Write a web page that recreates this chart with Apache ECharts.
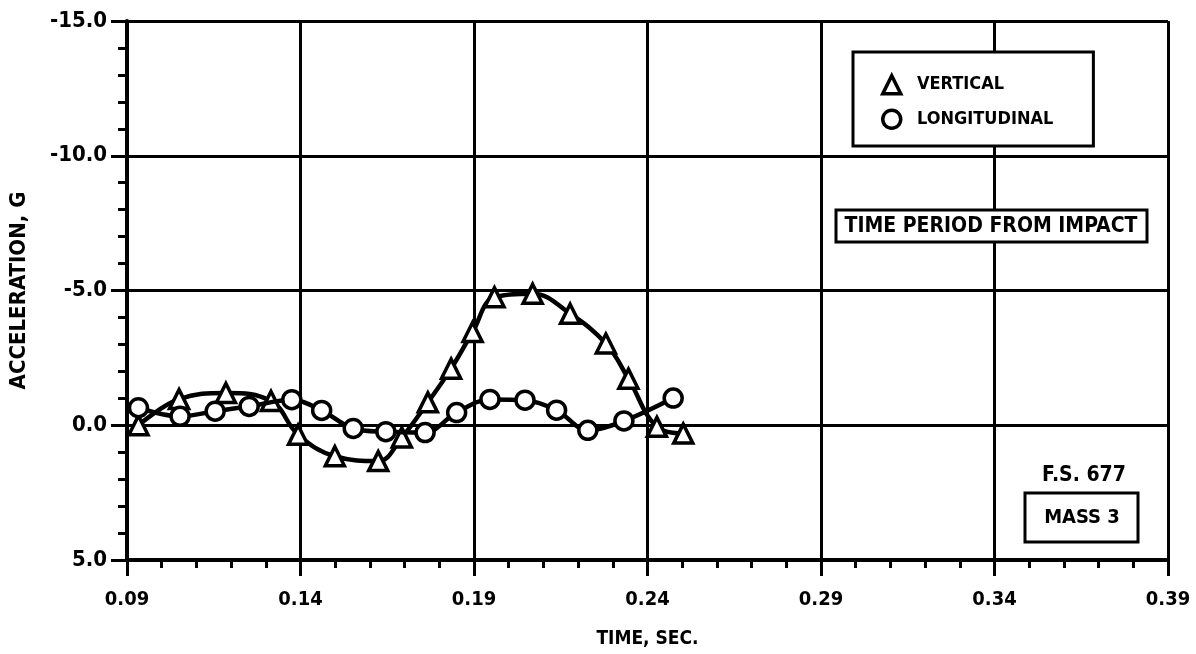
<!DOCTYPE html>
<html>
<head>
<meta charset="utf-8">
<script src="https://cdn.jsdelivr.net/npm/echarts@6/dist/echarts.min.js"></script>
<style>
html,body{margin:0;padding:0;background:#fff;}
#chart{width:1196px;height:654px;}
</style>
</head>
<body>
<div id="chart"></div>
<script>
// ---- data ----
const xTicks = [0.09, 0.14, 0.19, 0.24, 0.29, 0.34, 0.39];
const yTicks = [-15, -10, -5, 0, 5];
const vertT = [0.0933,0.1050,0.1185,0.1315,0.1393,0.1499,0.1624,0.1692,0.1767,0.1834,0.1896,0.1959,0.2069,0.2177,0.2280,0.2345,0.2427,0.2503];
const vertG = [0.0,-0.97,-1.2,-0.9,0.35,1.15,1.33,0.45,-0.85,-2.1,-3.46,-4.75,-4.88,-4.14,-3.03,-1.73,0.06,0.31];
const longT = [0.0933,0.1053,0.1154,0.1252,0.1375,0.1461,0.1552,0.1646,0.1759,0.1850,0.1946,0.2047,0.2138,0.2228,0.2332,0.2474];
const longG = [-0.65,-0.33,-0.52,-0.7,-0.95,-0.55,0.12,0.24,0.27,-0.47,-0.96,-0.93,-0.56,0.19,-0.16,-1.01];
const seriesNames = ['VERTICAL', 'LONGITUDINAL'];
const xName = 'TIME, SEC.';
const yName = 'ACCELERATION, G';
const noteBox = 'TIME PERIOD FROM IMPACT';
const noteFS = 'F.S. 677';
const noteMass = 'MASS 3';

const FONT = '"DejaVu Sans Condensed","DejaVu Sans",sans-serif';
const BLK = '#000';

const chart = echarts.init(document.getElementById('chart'), null, {renderer: 'canvas'});

function zip(a, b) { return a.map((v, i) => [v, b[i]]); }

const option = {
  backgroundColor: '#fff',
  animation: false,
  grid: {left: 127, right: 28, top: 21, bottom: 94, containLabel: false, outerBoundsMode: 'none'},
  legend: {
    orient: 'vertical',
    left: 853, top: 52,
    padding: [22, 40, 16, 28],
    itemGap: 13,
    itemWidth: 18, itemHeight: 18,
    backgroundColor: '#fff',
    borderColor: BLK, borderWidth: 3,
    formatter: n => '  ' + n,
    textStyle: {fontFamily: FONT, fontWeight: 'bold', fontSize: 18, color: BLK},
    data: [
      {name: seriesNames[0], icon: 'triangle', itemStyle: {color: '#fff', borderColor: BLK, borderWidth: 3.5}},
      {name: seriesNames[1], icon: 'circle', itemStyle: {color: '#fff', borderColor: BLK, borderWidth: 3.5}}
    ]
  },
  xAxis: [{
    type: 'value', min: xTicks[0], max: xTicks[xTicks.length - 1], interval: 0.01,
    position: 'bottom',
    name: xName, nameLocation: 'middle', nameGap: 70,
    nameTextStyle: {fontFamily: FONT, fontWeight: 'bold', fontSize: 19, color: BLK},
    axisLine: {onZero: false, lineStyle: {color: BLK, width: 4}},
    axisTick: {show: true, customValues: xTicks, length: 16, lineStyle: {color: BLK, width: 3}},
    axisLabel: {customValues: xTicks, margin: 30, fontFamily: FONT, fontWeight: 'bold', fontSize: 20, color: BLK,
      formatter: v => v.toFixed(2)},
    splitLine: {show: true, lineStyle: {color: BLK, width: 3}}
  }, {
    type: 'value', min: xTicks[0], max: xTicks[xTicks.length - 1], interval: 0.01,
    position: 'bottom', gridIndex: 0,
    axisLine: {show: false, onZero: false},
    axisTick: {show: true, length: 8, lineStyle: {color: BLK, width: 3}},
    axisLabel: {show: false},
    splitLine: {show: false}
  }],
  yAxis: {
    type: 'value', inverse: true, min: yTicks[0], max: yTicks[yTicks.length - 1], interval: 5,
    name: yName, nameLocation: 'middle', nameGap: 97, nameRotate: 90,
    nameTextStyle: {fontFamily: FONT, fontWeight: 'bold', fontSize: 22, color: BLK},
    axisLine: {onZero: false, lineStyle: {color: BLK, width: 4}},
    axisTick: {show: true, length: 16, lineStyle: {color: BLK, width: 3}},
    minorTick: {show: true, splitNumber: 5, length: 9, lineStyle: {color: BLK, width: 3}},
    axisLabel: {margin: 20, fontFamily: FONT, fontWeight: 'bold', fontSize: 22, color: BLK,
      formatter: v => v.toFixed(1)},
    splitLine: {show: true, lineStyle: {color: BLK, width: 3}}
  },
  series: [{
    name: seriesNames[0], type: 'line', smooth: 0.4,
    data: zip(vertT, vertG),
    symbol: 'triangle', symbolSize: 19,
    lineStyle: {color: BLK, width: 4.5},
    itemStyle: {color: '#fff', borderColor: BLK, borderWidth: 3.5},
    z: 3
  }, {
    name: seriesNames[1], type: 'line', smooth: 0.35,
    data: zip(longT, longG),
    symbol: 'circle', symbolSize: 18,
    lineStyle: {color: BLK, width: 4.5},
    itemStyle: {color: '#fff', borderColor: BLK, borderWidth: 3.5},
    z: 4
  }],
  graphic: [
    {type: 'rect', z: 100, shape: {x: 836, y: 210, width: 311, height: 32},
      style: {fill: '#fff', stroke: BLK, lineWidth: 3}},
    {type: 'text', z: 101, x: 991, y: 227,
      style: {text: noteBox, fill: BLK, font: 'bold 21px ' + FONT, textAlign: 'center', textVerticalAlign: 'middle'}},
    {type: 'text', z: 101, x: 1084, y: 476,
      style: {text: noteFS, fill: BLK, font: 'bold 21px ' + FONT, textAlign: 'center', textVerticalAlign: 'middle'}},
    {type: 'rect', z: 100, shape: {x: 1025, y: 493, width: 113, height: 49},
      style: {fill: '#fff', stroke: BLK, lineWidth: 3}},
    {type: 'text', z: 101, x: 1082, y: 518,
      style: {text: noteMass, fill: BLK, font: 'bold 20px ' + FONT, textAlign: 'center', textVerticalAlign: 'middle'}}
  ]
};
chart.setOption(option);
</script>
</body>
</html>
